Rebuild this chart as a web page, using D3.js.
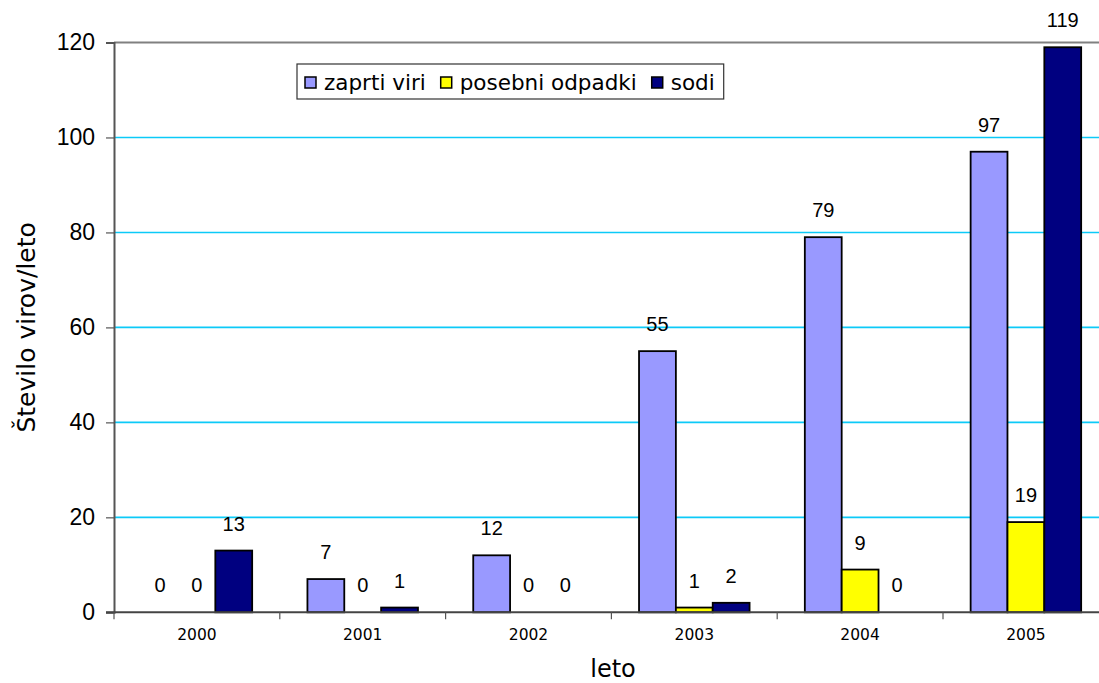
<!DOCTYPE html>
<html>
<head>
<meta charset="utf-8">
<script src="https://cdn.jsdelivr.net/npm/d3@7"></script>
<style>
   html, body { margin: 0; padding: 0; background: #fff; }
   svg { display: block; }
</style>
</head>
<body>
<div id="chart"></div>
<script>

// CHART DATA
var years = ['2000', '2001', '2002', '2003', '2004', '2005'];
var series = ['zaprti viri', 'posebni odpadki', 'sodi'];
var zaprti = [0, 7, 12, 55, 79, 97];
var posebni = [0, 0, 0, 1, 9, 19];
var sodi = [13, 1, 0, 2, 0, 119];
var yTicks = [0, 20, 40, 60, 80, 100, 120];
var colors = ['#9999ff', '#ffff00', '#000080'];

// SETTINGS
var settings = {
   width: 1099,
   height: 683,
   left: 114,
   step: 165.8,
   top: 42.5,
   bottom: 612.3,
   sans: 'Liberation Sans, Arial, sans-serif',
   verdana: 'DejaVu Sans, Verdana, sans-serif'
};

var values = [zaprti, posebni, sodi];

// X-SCALING (CATEGORIES + SERIES INSIDE EACH GROUP)
var xScale = d3.scaleBand()
   .domain(years)
   .range([settings.left, settings.left + settings.step * years.length])
   .paddingInner(0)
   .paddingOuter(0)

var xSub = d3.scaleBand()
   .domain(series)
   .range([0, xScale.bandwidth()])
   .paddingInner(0)
   .paddingOuter(0.75)

// Y-SCALING
var yScale = d3.scaleLinear()
   .domain([0, 120])
   .range([settings.bottom, settings.top])

// GENERATE CANVAS
var canvas = d3.select('#chart').append('svg')
   .attr('width', settings.width)
   .attr('height', settings.height)

canvas.append('rect')
   .attr('width', settings.width)
   .attr('height', settings.height)
   .attr('fill', '#fff')

// GRIDLINES
canvas.selectAll('.grid')
   .data(yTicks.filter(d => d > 0 && d < 120))
   .enter().append('line')
      .attr('class', 'grid')
      .attr('x1', settings.left)
      .attr('x2', settings.width)
      .attr('y1', d => yScale(d))
      .attr('y2', d => yScale(d))
      .attr('stroke', '#0ccaf8')
      .attr('stroke-width', 1.6)

// TOP BORDER OF PLOT AREA
canvas.append('line')
   .attr('x1', settings.left)
   .attr('x2', settings.width)
   .attr('y1', yScale(120))
   .attr('y2', yScale(120))
   .attr('stroke', '#808080')
   .attr('stroke-width', 2)

// BARS
series.forEach((name, s) => {
   canvas.selectAll('.bar' + s)
      .data(values[s])
      .enter().append('rect')
         .attr('class', 'bar' + s)
         .attr('x', (d, i) => xScale(years[i]) + xSub(name))
         .attr('y', d => yScale(d))
         .attr('width', xSub.bandwidth())
         .attr('height', d => yScale(0) - yScale(d))
         .attr('fill', colors[s])
         .attr('stroke', d => d > 0 ? '#000' : 'none')
         .attr('stroke-width', 1.8)
});

// VALUE LABELS
series.forEach((name, s) => {
   canvas.selectAll('.lbl' + s)
      .data(values[s])
      .enter().append('text')
         .attr('class', 'lbl' + s)
         .attr('x', (d, i) => xScale(years[i]) + xSub(name) + xSub.bandwidth() / 2)
         .attr('y', d => yScale(d) - 20)
         .attr('text-anchor', 'middle')
         .attr('font-family', settings.sans)
         .attr('font-size', 20)
         .attr('fill', '#000')
         .text(d => d)
});

// Y-AXIS
var yAxis = d3.axisLeft(yScale)
   .tickValues(yTicks)
   .tickSize(8)
   .tickPadding(11)
   .tickFormat(d3.format('d'))

var gy = canvas.append('g')
   .attr('transform', 'translate(' + settings.left + ',0)')
   .call(yAxis)

gy.select('.domain').attr('stroke', '#555').attr('stroke-width', 2)
gy.selectAll('.tick line').attr('stroke', '#555').attr('stroke-width', 1.2)
gy.selectAll('.tick text')
   .attr('font-family', settings.sans)
   .attr('font-size', 23)
   .attr('fill', '#000')

// X-AXIS (TICKS AT CATEGORY BOUNDARIES)
canvas.append('line')
   .attr('x1', settings.left - 8)
   .attr('x2', settings.width)
   .attr('y1', yScale(0))
   .attr('y2', yScale(0))
   .attr('stroke', '#444')
   .attr('stroke-width', 2)

canvas.selectAll('.xtick')
   .data(years.concat(['end']))
   .enter().append('line')
      .attr('class', 'xtick')
      .attr('x1', (d, i) => settings.left + i * xScale.step())
      .attr('x2', (d, i) => settings.left + i * xScale.step())
      .attr('y1', yScale(0))
      .attr('y2', yScale(0) + 7)
      .attr('stroke', '#555')
      .attr('stroke-width', 1.2)

canvas.selectAll('.xlabel')
   .data(years)
   .enter().append('text')
      .attr('class', 'xlabel')
      .attr('x', d => xScale(d) + xScale.bandwidth() / 2)
      .attr('y', 640)
      .attr('text-anchor', 'middle')
      .attr('font-family', settings.verdana)
      .attr('font-size', 15.5)
      .attr('fill', '#000')
      .text(d => d)

// AXIS TITLES
canvas.append('text')
   .attr('x', 613)
   .attr('y', 677)
   .attr('text-anchor', 'middle')
   .attr('font-family', settings.verdana)
   .attr('font-size', 24)
   .attr('fill', '#000')
   .text('leto')

canvas.append('text')
   .attr('transform', 'translate(35,' + ((settings.top + settings.bottom) / 2) + ') rotate(-90)')
   .attr('text-anchor', 'middle')
   .attr('font-family', settings.verdana)
   .attr('font-size', 25)
   .attr('fill', '#000')
   .text('Število virov/leto')

// LEGEND
var legend = canvas.append('g')
   .attr('transform', 'translate(297,64)')

var legendBox = legend.append('rect')
   .attr('width', 429)
   .attr('height', 35)
   .attr('fill', '#fff')
   .attr('stroke', '#333')
   .attr('stroke-width', 1.2)

var cursor = 8;
series.forEach((name, s) => {
   legend.append('rect')
      .attr('x', cursor)
      .attr('y', 13)
      .attr('width', 11)
      .attr('height', 11)
      .attr('fill', colors[s])
      .attr('stroke', '#000')
      .attr('stroke-width', 1.5)

   var label = legend.append('text')
      .attr('x', cursor + 19)
      .attr('y', 26)
      .attr('font-family', settings.verdana)
      .attr('font-size', 21.5)
      .attr('fill', '#000')
      .text(name)

   cursor += 19 + label.node().getComputedTextLength() + 15;
});

legendBox.attr('width', cursor - 6)

</script>
</body>
</html>
